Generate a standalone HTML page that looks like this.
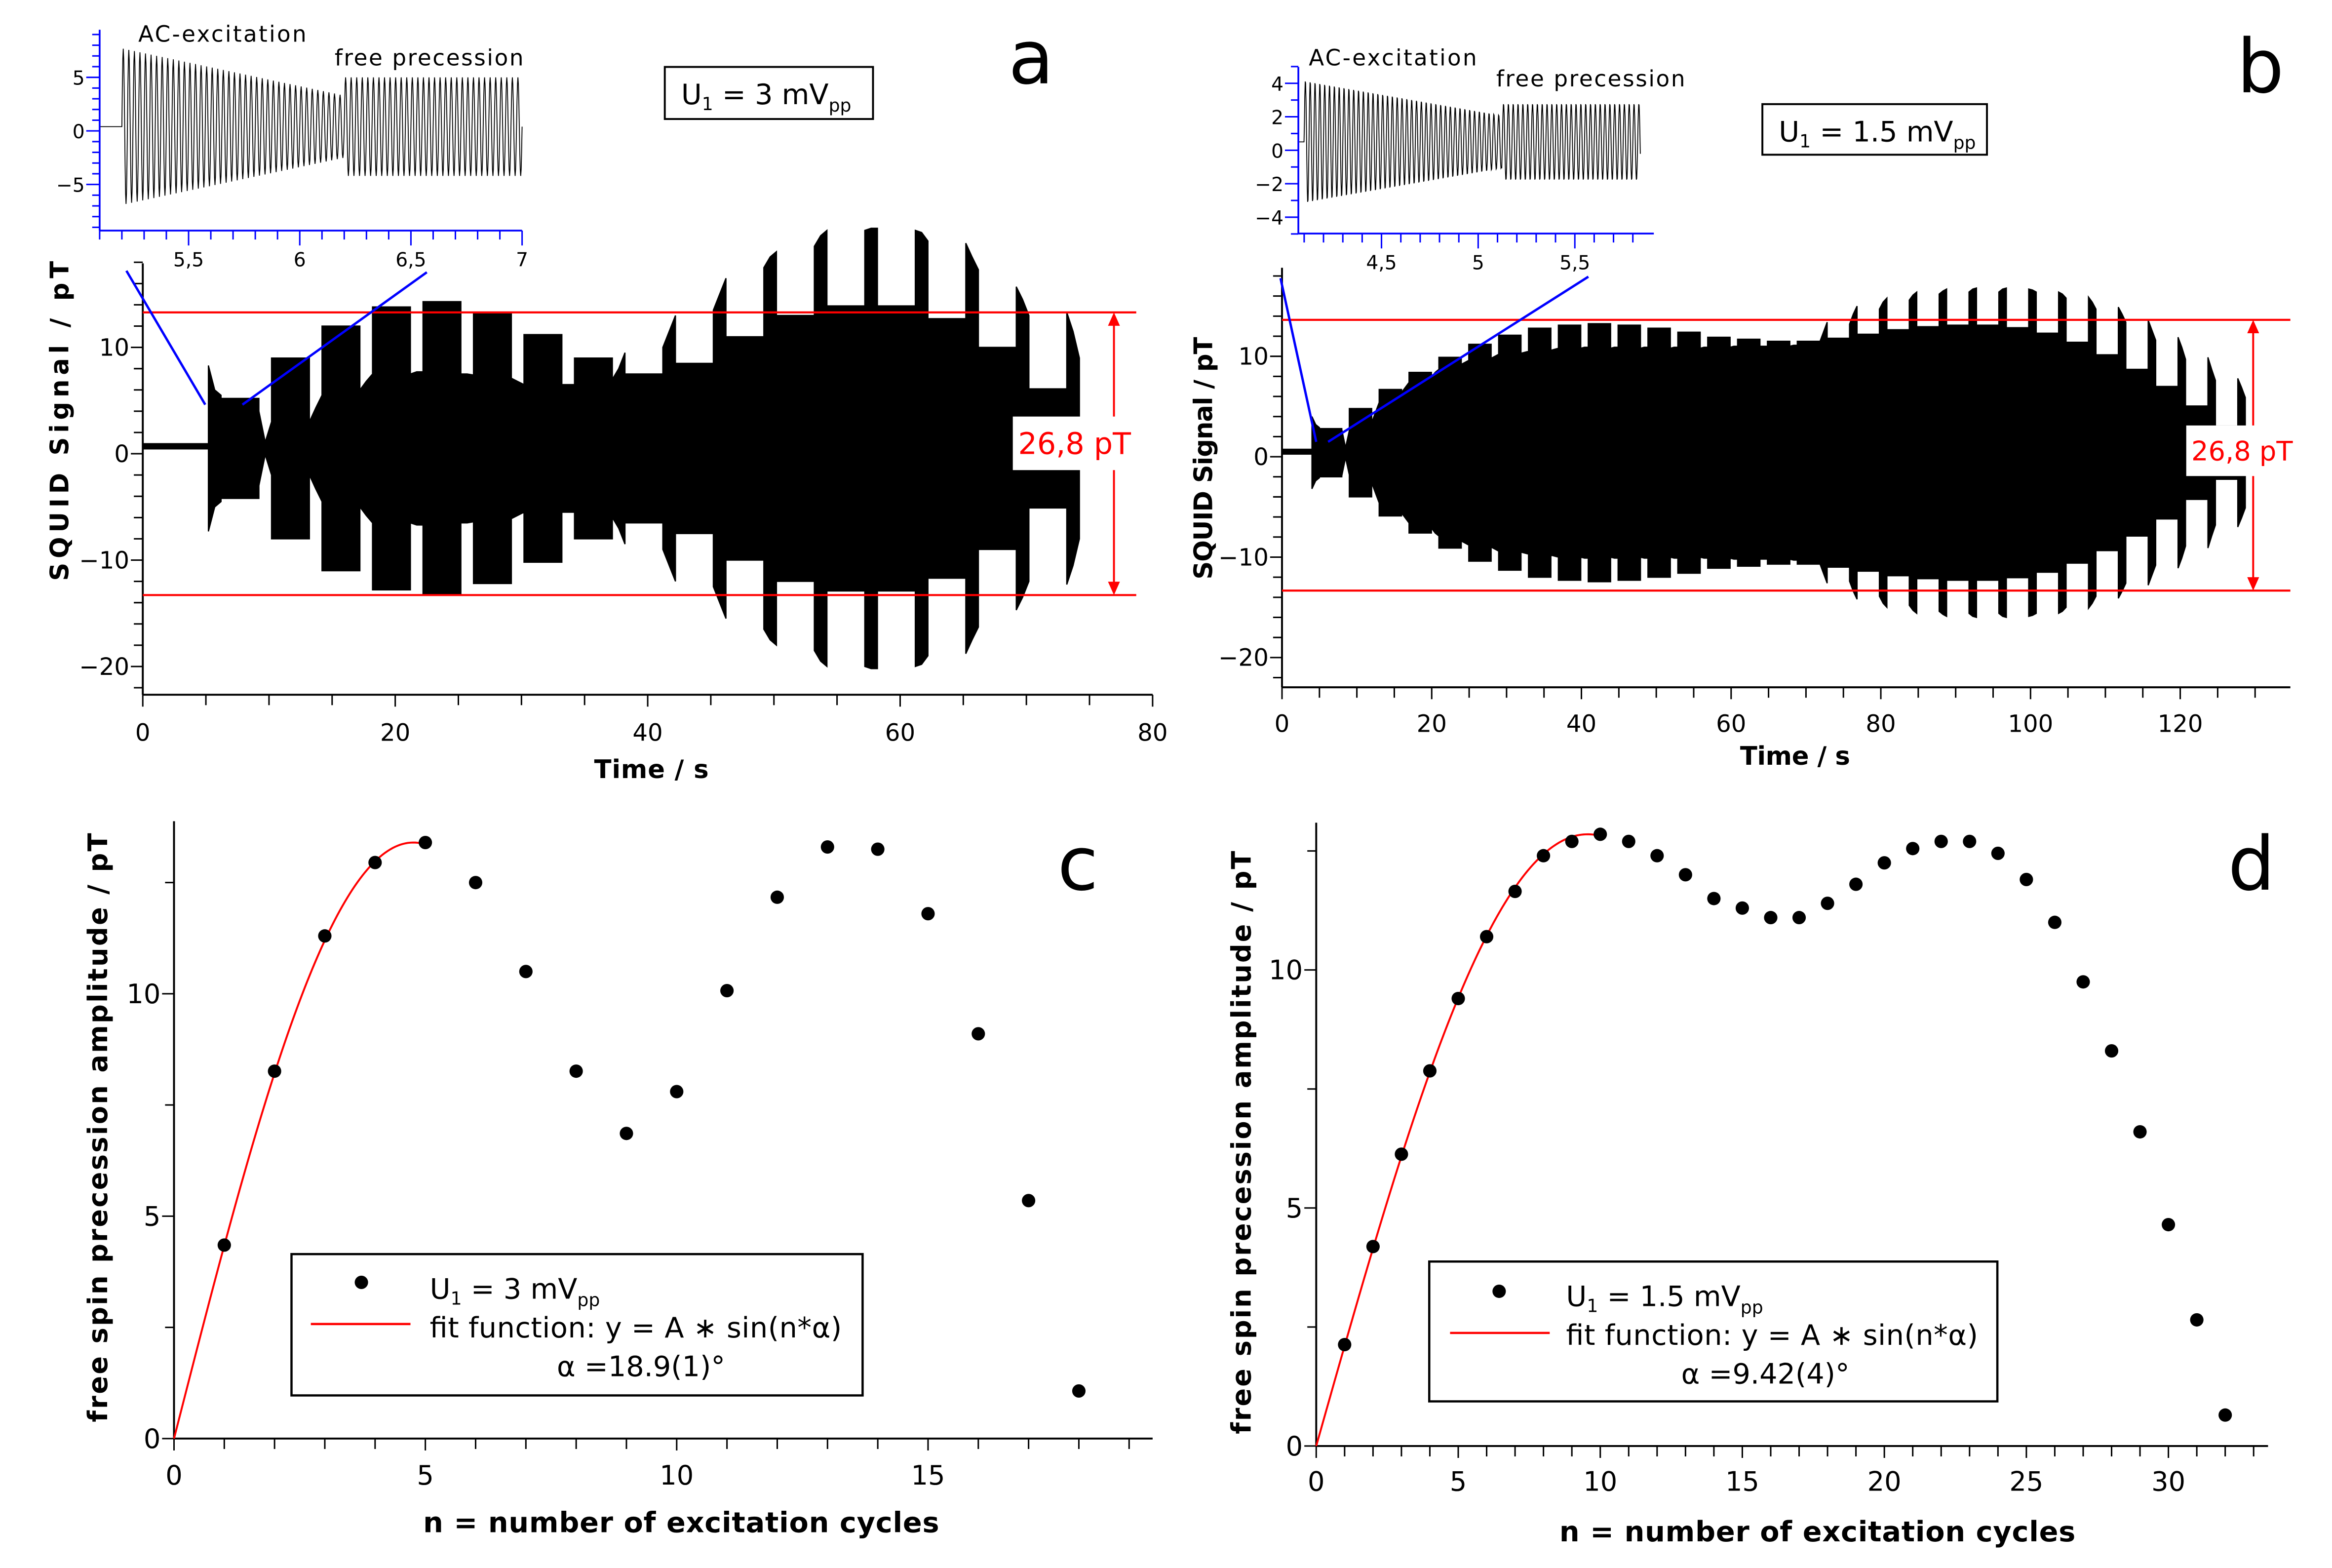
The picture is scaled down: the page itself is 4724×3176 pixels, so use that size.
<!DOCTYPE html>
<html><head><meta charset="utf-8"><style>
html,body{margin:0;padding:0;background:#fff;}
svg{display:block;font-family:"DejaVu Sans","Liberation Sans",sans-serif;}
</style></head><body>
<svg id="fig" xmlns="http://www.w3.org/2000/svg" width="4724" height="3176" viewBox="0 0 1568 1054" preserveAspectRatio="none">
<rect x="0" y="0" width="1568" height="1054" fill="#fff"/>
<g id="gA"></g>
<g id="gB"></g>
<g id="gC"></g>
<g id="gD"></g>
<g id="labels">
<text x="678" y="56" font-size="50">a</text>
<text x="1504" y="62" font-size="50">b</text>
<text x="711" y="598" font-size="50">c</text>
<text x="1498" y="598" font-size="50">d</text>
<rect x="447" y="45" width="140" height="35" fill="#fff" stroke="#000" stroke-width="1.3"/>
<text x="458" y="70" font-size="19">U<tspan font-size="12" dy="4">1</tspan><tspan dy="-4"> = 3 mV</tspan><tspan font-size="12" dy="5">pp</tspan></text>
<rect x="1185" y="70" width="151" height="34" fill="#fff" stroke="#000" stroke-width="1.3"/>
<text x="1196" y="95" font-size="19">U<tspan font-size="12" dy="4">1</tspan><tspan dy="-4"> = 1.5 mV</tspan><tspan font-size="12" dy="5">pp</tspan></text>
<text x="93" y="28" font-size="15" textLength="113">AC-excitation</text>
<text x="225" y="44" font-size="15" textLength="127">free precession</text>
<text x="880" y="44" font-size="15" textLength="113">AC-excitation</text>
<text x="1006" y="58" font-size="15" textLength="127">free precession</text>
<text transform="translate(46,283) rotate(-90)" text-anchor="middle" font-size="17" font-weight="bold" textLength="215">SQUID Signal / pT</text>
<text x="438" y="523" text-anchor="middle" font-size="17" font-weight="bold" textLength="77">Time / s</text>
<text transform="translate(815,308) rotate(-90)" text-anchor="middle" font-size="17" font-weight="bold" textLength="163">SQUID Signal / pT</text>
<text x="1207" y="514" text-anchor="middle" font-size="17" font-weight="bold" textLength="74">Time / s</text>
<text transform="translate(72,758) rotate(-90)" text-anchor="middle" font-size="18" font-weight="bold" textLength="396">free spin precession amplitude / pT</text>
<text x="458" y="1030" text-anchor="middle" font-size="19" font-weight="bold" textLength="347">n = number of excitation cycles</text>
<text transform="translate(841,768) rotate(-90)" text-anchor="middle" font-size="18" font-weight="bold" textLength="392">free spin precession amplitude / pT</text>
<text x="1222" y="1036" text-anchor="middle" font-size="19" font-weight="bold" textLength="347">n = number of excitation cycles</text>
<rect x="196" y="843" width="384" height="95" fill="#fff" stroke="#000" stroke-width="1.5"/>
<circle cx="243" cy="862" r="4.5" fill="#000"/>
<text x="289" y="873" font-size="19">U<tspan font-size="12" dy="4">1</tspan><tspan dy="-4"> = 3 mV</tspan><tspan font-size="12" dy="5">pp</tspan></text>
<line x1="209" y1="890" x2="276" y2="890" stroke="#f00" stroke-width="1.5"/>
<text x="289" y="899" font-size="19" textLength="277">fit function: y = A ∗ sin(n*α)</text>
<text x="431" y="925" text-anchor="middle" font-size="19">α =18.9(1)°</text>
<rect x="961" y="848" width="382" height="94" fill="#fff" stroke="#000" stroke-width="1.5"/>
<circle cx="1008" cy="868" r="4.5" fill="#000"/>
<text x="1053" y="878" font-size="19">U<tspan font-size="12" dy="4">1</tspan><tspan dy="-4"> = 1.5 mV</tspan><tspan font-size="12" dy="5">pp</tspan></text>
<line x1="975" y1="896" x2="1042" y2="896" stroke="#f00" stroke-width="1.5"/>
<text x="1053" y="904" font-size="19" textLength="277">fit function: y = A ∗ sin(n*α)</text>
<text x="1187" y="930" text-anchor="middle" font-size="19">α =9.42(4)°</text>
</g>
</svg>
<script>
// ---------- data ----------
const cN = [1,2,3,4,5,6,7,8,9,10,11,12,13,14,15,16,17,18];
const cAmp = [4.35,8.26,11.3,12.95,13.4,12.5,10.5,8.26,6.86,7.8,10.07,12.17,13.3,13.25,11.8,9.1,5.35,1.07];
const cFitA = 13.4, cFitAlphaDeg = 18.9, cFitNmax = 5;
const dN = [1,2,3,4,5,6,7,8,9,10,11,12,13,14,15,16,17,18,19,20,21,22,23,24,25,26,27,28,29,30,31,32];
const dAmp = [2.13,4.19,6.13,7.88,9.4,10.7,11.65,12.4,12.7,12.85,12.7,12.4,12.0,11.5,11.3,11.1,11.1,11.4,11.8,12.25,12.55,12.7,12.7,12.45,11.9,11.0,9.75,8.3,6.6,4.65,2.65,0.65];
const dFitA = 12.85, dFitAlphaDeg = 9.42, dFitNmax = 10;
// signal a: free-precession amplitudes and excitation envelopes [start, mid, end]
const fpAmpA = [4.7,8.5,11.5,13.3,13.8,12.7,10.7,8.5,7.0,8.0,10.5,12.5,13.4,13.4,12.2,9.5,5.6];
const exAmpA = [[7.8,5.5,5],[3.5,0.6,2.5],[2.5,3.8,5],[5.5,6.3,7],[7,7.2,7.2],[7,7,6.9],[6.6,6.3,6],[6,6,6],[6.5,7.5,9],[9.5,11,12.5],[13,14.5,16],[17,18,18.5],[19,20,20.5],[20.5,20.7,20.7],[20.5,20.3,19.5],[19.3,18,16.8],[15.2,14,12.5],[12.8,11,8.5]];
const fpAmpB = [2.4,4.4,6.3,8.0,9.5,10.8,11.7,12.4,12.7,12.85,12.7,12.4,12.0,11.5,11.3,11.1,11.1,11.4,11.8,12.25,12.55,12.7,12.7,12.45,11.9,11.0,9.75,8.3,6.6,4.65,2.65];
const exAmpB = [[3.6,2.8,2.5],[2.3,0.5,2.2],[3,4,5],[6,6.5,7],[7.5,8,8.3],[8.8,9,9.2],[9.4,9.6,9.8],[9.9,10,10.1],[10.2,10.3,10.4],[10.4,10.5,10.5],[10.4,10.5,10.5],[10.4,10.5,10.5],[10.4,10.5,10.5],[10.4,10.5,10.5],[10.5,10.6,10.6],[10.6,10.6,10.6],[10.6,10.7,10.7],[11,12,13],[12.8,13.8,14.6],[14.3,15,15.4],[15.2,15.7,16],[15.8,16.1,16.3],[16,16.3,16.4],[16,16.3,16.4],[16.3,16.2,16],[16,15.8,15.4],[15.5,15,14.3],[14.5,13.8,13],[13.2,12.2,11.2],[11.5,10.5,9.3],[9.5,8.3,7.2],[7.4,6.5,5.5]];
const ticksAx = [0,20,40,60,80], ticksAy = [-20,-10,0,10];
const ticksBx = [0,20,40,60,80,100,120], ticksBy = [-20,-10,0,10];
const ticksCx = [0,5,10,15], ticksCy = [0,5,10];
const ticksDx = [0,5,10,15,20,25,30], ticksDy = [0,5,10];
const insetAx = [5.5,6,6.5,7], insetAxLabels = ["5,5","6","6,5","7"], insetAy = [-5,0,5];
const insetBx = [4.5,5,5.5], insetBxLabels = ["4,5","5","5,5"], insetBy = [-4,-2,0,2,4];

// ---------- helpers ----------
const NS = 'http://www.w3.org/2000/svg';
function mk(tag, attrs, parent){const e=document.createElementNS(NS,tag);for(const k in attrs)e.setAttribute(k,attrs[k]);parent.appendChild(e);return e;}
const gA=document.getElementById('gA'),gB=document.getElementById('gB'),gC=document.getElementById('gC'),gD=document.getElementById('gD');

const xA=t=>96+t*8.4875, yA=v=>305-7.15*v;
const xB=t=>862+t*5.033, yB=v=>307-6.75*v;
const xC=n=>117+33.8*n, yC=v=>967-29.9*v;
const xD=n=>885+19.1*n, yD=v=>972-32*v;
const xIA=t=>67+(t-5.1)*149.5, yIA=v=>88-7.2*v;
const xIB=t=>873+(t-4.07)*130, yIB=v=>101-11.25*v;

function signal(g, xs, ys, ex, fp, t0, P, E, off, base, baseC, name){
  const top=[],bot=[];
  for(let k=0;k<ex.length;k++){
    const s=t0+P*k, e=ex[k];
    [[s,e[0]],[s+E/2,e[1]],[s+E,e[2]]].forEach(p=>{top.push([p[0],off+p[1]]);bot.push([p[0],off-p[1]]);});
    if(k<fp.length){top.push([s+E,off+fp[k]],[s+P,off+fp[k]]);bot.push([s+E,off-fp[k]],[s+P,off-fp[k]]);}
  }
  const pts=top.concat(bot.reverse()).map(p=>xs(p[0]).toFixed(2)+','+ys(p[1]).toFixed(2)).join(' ');
  const poly=mk('polygon',{points:pts,fill:'#000',stroke:'#000','stroke-width':0.8},g);
  
  
  const r=mk('rect',{x:xs(0),y:ys(baseC+base),width:xs(t0)-xs(0),height:ys(baseC-base)-ys(baseC+base),fill:'#000'},g);
  
  
}

function drawAxes(g, o){
  const xl=mk('line',{x1:o.xL,y1:o.yB,x2:o.xR,y2:o.yB,stroke:'#000','stroke-width':1.3},g);
  
  
  const yl=mk('line',{x1:o.xL,y1:o.yB,x2:o.xL,y2:o.yT,stroke:'#000','stroke-width':1.3},g);
  
  
  for(let v=o.xmin;v<=o.xmax+1e-9;v+=o.xminor){
    const major=o.xt.some(t=>Math.abs(t-v)<1e-6);
    const tk=mk('line',{x1:o.xs(v),y1:o.yB,x2:o.xs(v),y2:o.yB+(major?8:7),stroke:'#000','stroke-width':1},g);
    
    
  }
  o.xt.forEach(v=>{
    const t=mk('text',{x:o.xs(v),y:o.yB+o.xlabOff,'text-anchor':'middle','font-size':o.fs},g);
    t.textContent=String(v);
    
    
  });
  for(let v=o.ymin;v<=o.ymax+1e-9;v+=o.yminor){
    const major=o.yt.some(t=>Math.abs(t-v)<1e-6);
    const tk=mk('line',{x1:o.xL,y1:o.ys(v),x2:o.xL-(major?8:6),y2:o.ys(v),stroke:'#000','stroke-width':1},g);
    
    
  }
  o.yt.forEach(v=>{
    const t=mk('text',{x:o.xL-9,y:o.ys(v)+o.fs*0.35,'text-anchor':'end','font-size':o.fs},g);
    t.textContent=(v<0?'\u2212'+(-v):String(v));
    
    
  });
}

function inset(g, xs, ys, xL, xR, yT, yB, xmin, xmax, ymin, ymax, xt, xlab, yt, exA0, exA1, tEx0, tEx1, fpA, off, f, name){
  let pts=[];
  for(let t=xmin;t<=xmax;t+=1/(f*12)){
    let v;
    if(t<tEx0) v=off;
    else if(t<tEx1){const a=exA0+(exA1-exA0)*(t-tEx0)/(tEx1-tEx0); v=off+a*Math.sin(2*Math.PI*f*(t-tEx0));}
    else v=off+fpA*Math.sin(2*Math.PI*f*(t-tEx0));
    pts.push(xs(t).toFixed(2)+','+ys(v).toFixed(2));
  }
  const pl=mk('polyline',{points:pts.join(' '),fill:'none',stroke:'#000','stroke-width':0.6},g);
  
  
  const bl='#0000ff';
  const a1=mk('line',{x1:xL,y1:yB,x2:xR,y2:yB,stroke:bl,'stroke-width':1.2},g);
  
  
  const a2=mk('line',{x1:xL,y1:yB,x2:xL,y2:yT,stroke:bl,'stroke-width':1.2},g);
  
  
  for(let v=Math.ceil(xmin*10)/10; v<=xmax+1e-9; v+=0.1){
    const major=xt.some(t=>Math.abs(t-v)<1e-6);
    const tk=mk('line',{x1:xs(v),y1:yB,x2:xs(v),y2:yB+(major?10:6),stroke:bl,'stroke-width':1},g);
    
    
  }
  xt.forEach((v,i)=>{
    const t=mk('text',{x:xs(v),y:yB+24,'text-anchor':'middle','font-size':13},g);
    t.textContent=xlab[i];
    
    
  });
  for(let v=Math.ceil(ymin); v<=ymax; v+=1){
    const major=yt.some(t=>t===v);
    const tk=mk('line',{x1:xL,y1:ys(v),x2:xL-(major?9:5),y2:ys(v),stroke:bl,'stroke-width':1},g);
    
    
  }
  yt.forEach(v=>{
    const t=mk('text',{x:xL-10,y:ys(v)+5,'text-anchor':'end','font-size':13},g);
    t.textContent=(v<0?'\u2212'+(-v):String(v));
    
    
  });
}

function redMarker(g, xL, xR, y1, y2, ax, box, lbl, fs, name){
  [y1,y2].forEach(y=>{
    const l=mk('line',{x1:xL,y1:y,x2:xR,y2:y,stroke:'#f00','stroke-width':1.4},g);
    
    
  });
  const a=mk('line',{x1:ax,y1:y1+7,x2:ax,y2:y2-7,stroke:'#f00','stroke-width':1.3},g);
  
  
  const h1=mk('polygon',{points:`${ax},${y1} ${ax-4},${y1+9} ${ax+4},${y1+9}`,fill:'#f00'},g);
  
  
  const h2=mk('polygon',{points:`${ax},${y2} ${ax-4},${y2-9} ${ax+4},${y2-9}`,fill:'#f00'},g);
  
  
  const r=mk('rect',{x:box[0],y:box[1],width:box[2],height:box[3],fill:'#fff'},g);
  
  
  const t=mk('text',{x:box[0]+box[2]/2,y:box[1]+box[3]/2+fs*0.36,'text-anchor':'middle','font-size':fs,fill:'#f00'},g);
  t.textContent=lbl;
  
  
}

function blueLine(g,x1,y1,x2,y2){
  const l=mk('line',{x1:x1,y1:y1,x2:x2,y2:y2,stroke:'#0000ff','stroke-width':1.6},g);
  
  
}

// ---------- panel a ----------
signal(gA,xA,yA,exAmpA,fpAmpA,5.2,4.0,1.0,0.5,0.3,0.7,'signal-a');
drawAxes(gA,{name:'a',xs:xA,ys:yA,xL:96,xR:775,yB:467,yT:177,xmin:0,xmax:80,xminor:5,xt:ticksAx,ymin:-22,ymax:18,yminor:2,yt:ticksAy,fs:16,xlabOff:31});
redMarker(gA,96,764,210,400,749,[681,280,83,36],'26,8 pT',20,'a');
inset(gA,xIA,yIA,67,351,20,155,5.1,7.0,-9,9,insetAx,insetAxLabels,insetAy,7.3,2.9,5.2,6.2,4.6,0.4,40,'inset-a');
blueLine(gA,85,182,138,272);
blueLine(gA,287,183,163,272);

// ---------- panel b ----------
signal(gB,xB,yB,exAmpB,fpAmpB,4.0,3.99,1.0,0.4,0.3,0.5,'signal-b');
drawAxes(gB,{name:'b',xs:xB,ys:yB,xL:862,xR:1540,yB:462,yT:180,xmin:0,xmax:134,xminor:5,xt:ticksBx,ymin:-22,ymax:18,yminor:2,yt:ticksBy,fs:16,xlabOff:30});
redMarker(gB,862,1540,215,397,1515,[1470,286,75,34],'26,8 pT',18,'b');
inset(gB,xIB,yIB,873,1112,45,157,4.07,5.84,-5,5,insetBx,insetBxLabels,insetBy,3.7,1.6,4.1,5.12,2.3,0.5,40,'inset-b');
blueLine(gB,861,187,885,297);
blueLine(gB,1068,186,893,297);

// ---------- panels c, d ----------
function scatterPanel(g,xs,ys,N,A,fitA,alpha,nmax,o){
  drawAxes(g,o);
  let fp=[];
  for(let n=0;n<=nmax+1e-9;n+=0.05){fp.push(xs(n).toFixed(2)+','+ys(fitA*Math.sin(n*alpha*Math.PI/180)).toFixed(2));}
  const fl=mk('polyline',{points:fp.join(' '),fill:'none',stroke:'#f00','stroke-width':1.3},g);
  
  
  N.forEach((n,i)=>{
    const c=mk('circle',{cx:xs(n),cy:ys(A[i]),r:4.5,fill:'#000'},g);
    
    
  });
}
scatterPanel(gC,xC,yC,cN,cAmp,cFitA,cFitAlphaDeg,cFitNmax,{name:'c',xs:xC,ys:yC,xL:117,xR:775,yB:967,yT:552,xmin:0,xmax:19,xminor:1,xt:ticksCx,ymin:0,ymax:13.5,yminor:2.5,yt:ticksCy,fs:18,xlabOff:31});
scatterPanel(gD,xD,yD,dN,dAmp,dFitA,dFitAlphaDeg,dFitNmax,{name:'d',xs:xD,ys:yD,xL:885,xR:1525,yB:972,yT:553,xmin:0,xmax:33,xminor:1,xt:ticksDx,ymin:0,ymax:12.5,yminor:2.5,yt:ticksDy,fs:18,xlabOff:30});
</script>
</body></html>
